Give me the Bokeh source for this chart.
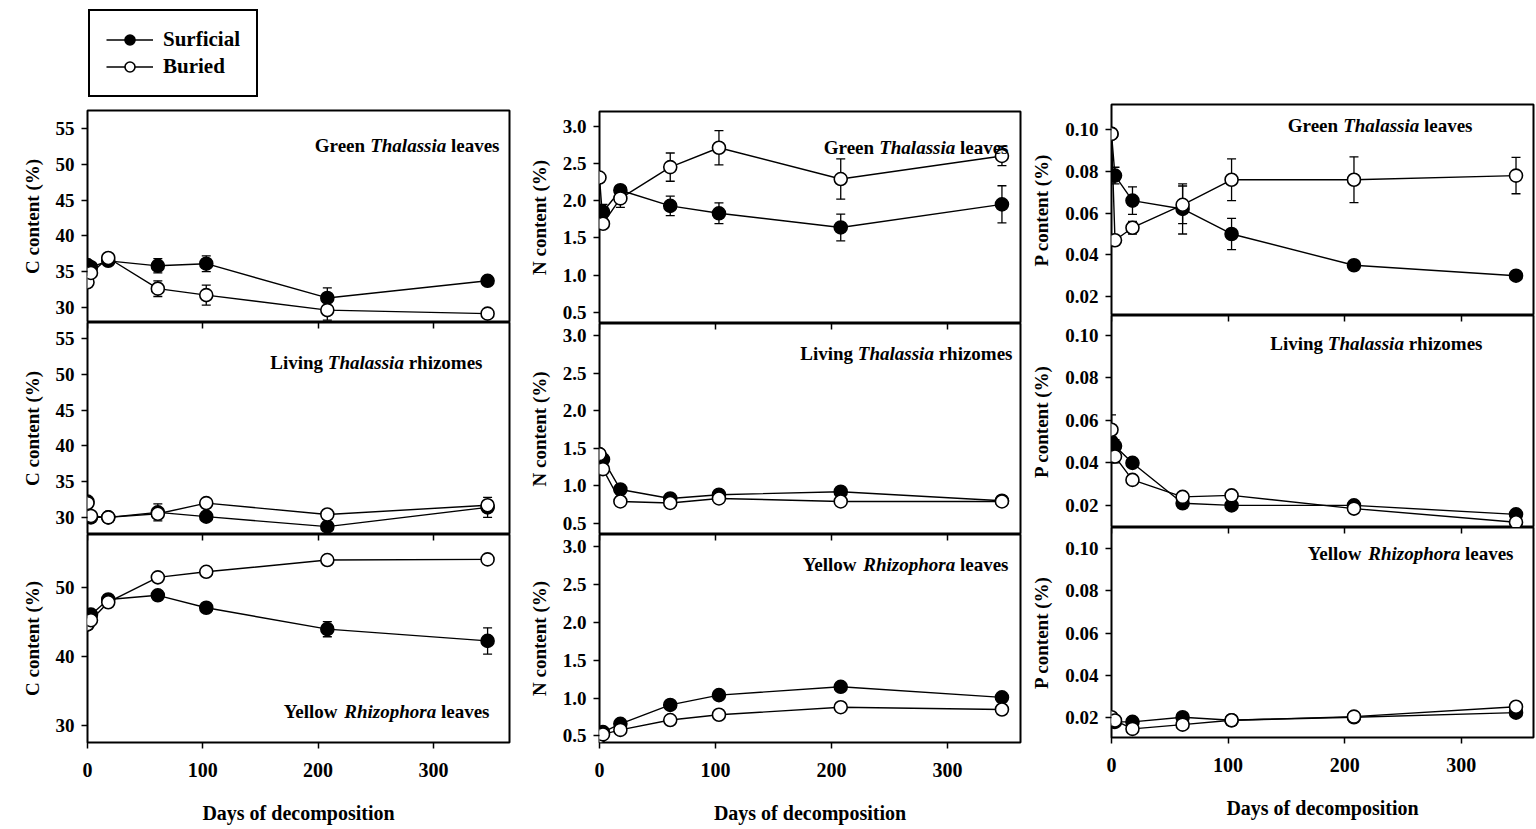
from bokeh.plotting import figure
from bokeh.models import (Range1d, LinearAxis, FixedTicker, PrintfTickFormatter,
                          ColumnDataSource, Whisker, TeeHead, Label, Legend, LegendItem)
from bokeh.layouts import row, column
from bokeh.embed import file_html
from bokeh.resources import INLINE

# ---------------- data ----------------
days = [0, 3, 18, 61, 103, 208, 347]
x_ticks = [0, 100, 200, 300]

# Carbon (%)
c_leaves_surf = [35.9, 35.6, 36.5, 35.8, 36.1, 31.3, 33.7]
c_leaves_surf_err = [0.3, 0.3, 0.6, 1.0, 1.1, 1.4, 0.3]
c_leaves_bur = [33.5, 34.8, 36.9, 32.6, 31.7, 29.6, 29.1]
c_leaves_bur_err = [0.3, 0.3, 0.5, 1.1, 1.4, 1.4, 0.3]

c_rhiz_surf = [32.2, 30.0, 30.0, 30.7, 30.1, 28.7, 31.4]
c_rhiz_surf_err = [0.3, 0.3, 0.3, 1.2, 0.6, 0.5, 1.4]
c_rhiz_bur = [32.0, 30.2, 30.0, 30.5, 32.0, 30.4, 31.7]
c_rhiz_bur_err = [0.3, 0.3, 0.3, 0.5, 0.4, 0.3, 0.5]

c_rhizo_surf = [44.6, 46.0, 48.2, 48.8, 47.0, 43.9, 42.2]
c_rhizo_surf_err = [0.5, 0.5, 0.6, 0.6, 0.6, 1.1, 1.9]
c_rhizo_bur = [44.6, 45.2, 47.8, 51.4, 52.2, 53.9, 54.0]
c_rhizo_bur_err = [0.3, 0.3, 0.3, 0.3, 0.3, 0.3, 0.6]

# Nitrogen (%)
n_leaves_surf = [1.80, 1.85, 2.14, 1.93, 1.83, 1.64, 1.95]
n_leaves_surf_err = [0.05, 0.10, 0.05, 0.13, 0.14, 0.18, 0.25]
n_leaves_bur = [2.31, 1.69, 2.03, 2.45, 2.71, 2.29, 2.60]
n_leaves_bur_err = [0.05, 0.05, 0.12, 0.19, 0.23, 0.27, 0.13]

n_rhiz_surf = [1.41, 1.35, 0.95, 0.83, 0.88, 0.92, 0.80]
n_rhiz_surf_err = [0.03, 0.03, 0.03, 0.03, 0.03, 0.03, 0.03]
n_rhiz_bur = [1.42, 1.22, 0.79, 0.77, 0.83, 0.79, 0.79]
n_rhiz_bur_err = [0.03, 0.03, 0.03, 0.03, 0.03, 0.03, 0.03]

n_rhizo_surf = [0.53, 0.55, 0.66, 0.91, 1.04, 1.15, 1.01]
n_rhizo_surf_err = [0.03, 0.03, 0.03, 0.03, 0.03, 0.04, 0.04]
n_rhizo_bur = [0.49, 0.52, 0.58, 0.71, 0.78, 0.88, 0.85]
n_rhizo_bur_err = [0.02, 0.02, 0.02, 0.02, 0.02, 0.02, 0.02]

# Phosphorus (%)
p_leaves_surf = [0.098, 0.078, 0.066, 0.062, 0.050, 0.035, 0.030]
p_leaves_surf_err = [0.002, 0.004, 0.0066, 0.012, 0.0075, 0.0015, 0.001]
p_leaves_bur = [0.098, 0.047, 0.053, 0.064, 0.076, 0.076, 0.078]
p_leaves_bur_err = [0.002, 0.002, 0.003, 0.009, 0.010, 0.011, 0.0087]

p_rhiz_surf = [0.050, 0.048, 0.040, 0.021, 0.020, 0.020, 0.0158]
p_rhiz_surf_err = [0.004, 0.003, 0.002, 0.001, 0.001, 0.001, 0.001]
p_rhiz_bur = [0.0556, 0.043, 0.032, 0.024, 0.0247, 0.0185, 0.0121]
p_rhiz_bur_err = [0.007, 0.003, 0.002, 0.001, 0.001, 0.001, 0.001]

p_rhizo_surf = [0.0192, 0.0178, 0.0178, 0.0200, 0.0186, 0.0200, 0.0222]
p_rhizo_surf_err = [0.001, 0.001, 0.001, 0.001, 0.001, 0.001, 0.001]
p_rhizo_bur = [0.0200, 0.0185, 0.0145, 0.0165, 0.0186, 0.0203, 0.0250]
p_rhizo_bur_err = [0.001, 0.001, 0.001, 0.001, 0.001, 0.001, 0.001]

series_names = ["Surficial", "Buried"]

# ---------------- styling helpers ----------------
FONT = "Liberation Serif"
TITLE_SIZE = 19

BOLD_W = {" ": 250, "G": 778, "L": 667, "Y": 722, "a": 500, "e": 444, "g": 500,
          "h": 556, "i": 278, "l": 278, "m": 833, "n": 556, "o": 500, "r": 444,
          "s": 389, "v": 500, "w": 722, "z": 444}
BOLDIT_W = {"T": 611, "R": 667, "a": 500, "h": 556, "i": 278, "l": 278, "o": 500,
            "p": 500, "r": 389, "s": 389, "z": 389}


def tw(s, table, size=TITLE_SIZE):
    return sum(table.get(ch, 500) for ch in s) * size / 1000.0


def add_title(p, words, right, yc):
    space = tw(" ", BOLD_W)
    widths = [tw(t, BOLDIT_W if it else BOLD_W) for t, it in words]
    total = sum(widths) + space * (len(words) - 1)
    x = right - total
    for (t, it), w in zip(words, widths):
        p.add_layout(Label(x=x, y=yc, x_units="screen", y_units="screen", text=t,
                           text_font=FONT,
                           text_font_style="bold italic" if it else "bold",
                           text_font_size=f"{TITLE_SIZE}px", text_color="black",
                           text_baseline="middle", text_align="left"))
        x += w + space


def style_fig(p):
    p.xgrid.visible = False
    p.ygrid.visible = False


def add_series(p, surf, surf_err, bur, bur_err, whiskers=True):
    rends = []
    for vals, errs, fill in ((surf, surf_err, "black"), (bur, bur_err, "white")):
        src = ColumnDataSource(dict(
            x=days, y=vals,
            lo=[v - e for v, e in zip(vals, errs)],
            hi=[v + e for v, e in zip(vals, errs)]))
        if whiskers:
            p.add_layout(Whisker(source=src, base="x", upper="hi", lower="lo",
                                 dimension="height", line_color="black", line_width=1.3,
                                 upper_head=TeeHead(size=9, line_color="black", line_width=1.3),
                                 lower_head=TeeHead(size=9, line_color="black", line_width=1.3)))
        ln = p.line("x", "y", source=src, line_color="black", line_width=1.4)
        sc = p.scatter("x", "y", source=src, size=13, fill_color=fill,
                       line_color="black", line_width=1.6)
        rends.append((ln, sc))
    return rends


def make_panel(width, height, left, right, top, bottom, xend, yr, yticks, yfmt,
               ylabel, surf, surf_err, bur, bur_err, title, tpos,
               top_axis=False, bottom_axis=False):
    p = figure(width=width, height=height, x_range=Range1d(0, xend),
               y_range=Range1d(*yr), output_backend="svg", toolbar_location=None,
               x_axis_location="below" if bottom_axis else None,
               y_axis_location="left",
               min_border_left=left, min_border_right=right,
               min_border_top=top, min_border_bottom=bottom,
               outline_line_color="black", outline_line_width=2,
               background_fill_color="white", border_fill_color="white")
    style_fig(p)

    ya = p.yaxis[0]
    ya.ticker = FixedTicker(ticks=yticks)
    ya.formatter = PrintfTickFormatter(format=yfmt)
    ya.axis_label = ylabel
    ya.axis_label_text_font = FONT
    ya.axis_label_text_font_style = "bold"
    ya.axis_label_text_font_size = "19px"
    ya.axis_label_text_color = "black"
    ya.axis_label_standoff = 10
    ya.major_label_text_font = FONT
    ya.major_label_text_font_style = "bold"
    ya.major_label_text_font_size = "19px"
    ya.major_label_text_color = "black"
    ya.major_label_standoff = 7
    ya.major_tick_out = 6
    ya.major_tick_in = 0
    ya.minor_tick_out = 0
    ya.minor_tick_in = 0
    ya.major_tick_line_width = 1.5
    ya.major_tick_line_color = "black"
    ya.axis_line_color = None

    if bottom_axis:
        xa = p.xaxis[0]
        xa.ticker = FixedTicker(ticks=x_ticks)
        xa.axis_label = "Days of decomposition"
        xa.axis_label_text_font = FONT
        xa.axis_label_text_font_style = "bold"
        xa.axis_label_text_font_size = "20px"
        xa.axis_label_text_color = "black"
        xa.axis_label_standoff = 22
        xa.major_label_text_font = FONT
        xa.major_label_text_font_style = "bold"
        xa.major_label_text_font_size = "20px"
        xa.major_label_text_color = "black"
        xa.major_label_standoff = 14
        xa.major_tick_out = 6
        xa.major_tick_in = 0
        xa.minor_tick_out = 0
        xa.minor_tick_in = 0
        xa.major_tick_line_width = 1.5
        xa.major_tick_line_color = "black"
        xa.axis_line_color = None

    if top_axis:
        ta = LinearAxis(fixed_location=yr[1], ticker=FixedTicker(ticks=x_ticks),
                        major_tick_in=6, major_tick_out=0, minor_tick_in=0,
                        minor_tick_out=0, axis_line_color=None,
                        major_label_text_color=None, major_tick_line_width=1.5,
                        major_tick_line_color="black")
        p.add_layout(ta, "above")

    add_series(p, surf, surf_err, bur, bur_err)
    add_title(p, title, tpos[0], tpos[1])
    return p


T_GREEN = [("Green", False), ("Thalassia", True), ("leaves", False)]
T_LIVING = [("Living", False), ("Thalassia", True), ("rhizomes", False)]
T_YELLOW = [("Yellow", False), ("Rhizophora", True), ("leaves", False)]

C_TICKS = [30, 35, 40, 45, 50, 55]
C_TICKS3 = [30, 40, 50]
N_TICKS = [0.5, 1.0, 1.5, 2.0, 2.5, 3.0]
P_TICKS = [0.02, 0.04, 0.06, 0.08, 0.10]

# ---------------- column 1 : carbon ----------------
p11 = make_panel(511, 222, 87, 2, 10, 0, 366, (27.86, 57.56), C_TICKS, "%d",
                 "C content (%)", c_leaves_surf, c_leaves_surf_err,
                 c_leaves_bur, c_leaves_bur_err, T_GREEN, (412, 177))
p21 = make_panel(511, 212, 87, 2, 0, 0, 366, (27.6, 57.3), C_TICKS, "%d",
                 "C content (%)", c_rhiz_surf, c_rhiz_surf_err,
                 c_rhiz_bur, c_rhiz_bur_err, T_LIVING, (395, 172), top_axis=True)
p31 = make_panel(511, 292, 87, 2, 0, 80, 366, (27.5, 57.6), C_TICKS3, "%d",
                 "C content (%)", c_rhizo_surf, c_rhizo_surf_err,
                 c_rhizo_bur, c_rhizo_bur_err, T_YELLOW, (402, 31),
                 top_axis=True, bottom_axis=True)

# ---------------- column 2 : nitrogen ----------------
p12 = make_panel(511, 223, 88, 2, 11, 0, 363, (0.35, 3.197), N_TICKS, "%.1f",
                 "N content (%)", n_leaves_surf, n_leaves_surf_err,
                 n_leaves_bur, n_leaves_bur_err, T_GREEN, (409, 176))
p22 = make_panel(511, 211, 88, 2, 0, 0, 363, (0.35, 3.16), N_TICKS, "%.1f",
                 "N content (%)", n_rhiz_surf, n_rhiz_surf_err,
                 n_rhiz_bur, n_rhiz_bur_err, T_LIVING, (413, 181), top_axis=True)
p32 = make_panel(511, 292, 88, 2, 0, 80, 363, (0.413, 3.165), N_TICKS, "%.1f",
                 "N content (%)", n_rhizo_surf, n_rhizo_surf_err,
                 n_rhizo_bur, n_rhizo_bur_err, T_YELLOW, (409, 178),
                 top_axis=True, bottom_axis=True)

# ---------------- column 3 : phosphorus ----------------
p13 = make_panel(514, 215, 89, 3, 4, 0, 362, (0.0109, 0.1121), P_TICKS, "%.2f",
                 "P content (%)", p_leaves_surf, p_leaves_surf_err,
                 p_leaves_bur, p_leaves_bur_err, T_GREEN, (361, 190))
p23 = make_panel(514, 212, 89, 3, 0, 0, 362, (0.0096, 0.1094), P_TICKS, "%.2f",
                 "P content (%)", p_rhiz_surf, p_rhiz_surf_err,
                 p_rhiz_bur, p_rhiz_bur_err, T_LIVING, (371, 184), top_axis=True)
p33 = make_panel(514, 299, 89, 3, 0, 89, 362, (0.0104, 0.1101), P_TICKS, "%.2f",
                 "P content (%)", p_rhizo_surf, p_rhizo_surf_err,
                 p_rhizo_bur, p_rhizo_bur_err, T_YELLOW, (402, 184),
                 top_axis=True, bottom_axis=True)

# ---------------- legend strip ----------------
# The key glyphs come from the first panel's two series, plotted here through a
# range that keeps them out of view so that only the legend shows.
lf = figure(width=1536, height=100, x_range=Range1d(0, 1), y_range=Range1d(0, 1),
            output_backend="svg", toolbar_location=None,
            x_axis_location=None, y_axis_location=None,
            min_border_left=88, min_border_top=9, min_border_right=0,
            min_border_bottom=0, outline_line_color=None,
            background_fill_color="white", border_fill_color="white")
style_fig(lf)
key_rends = add_series(lf, c_leaves_surf, c_leaves_surf_err, c_leaves_bur,
                       c_leaves_bur_err, whiskers=False)
items = [LegendItem(label=name, renderers=[ln, sc])
         for name, (ln, sc) in zip(series_names, key_rends)]
lg = Legend(items=items, location="top_left", orientation="vertical",
            glyph_width=47, glyph_height=25, label_standoff=10,
            padding=16, spacing=2, margin=0,
            border_line_color="black", border_line_width=2, border_line_alpha=1,
            background_fill_color="white", background_fill_alpha=1,
            label_text_font=FONT, label_text_font_style="bold",
            label_text_font_size="21px", label_text_color="black")
lf.add_layout(lg)

layout = column(lf, row(column(p11, p21, p31), column(p12, p22, p32),
                        column(p13, p23, p33)))

open("out.html", "w").write(file_html(layout, INLINE))
